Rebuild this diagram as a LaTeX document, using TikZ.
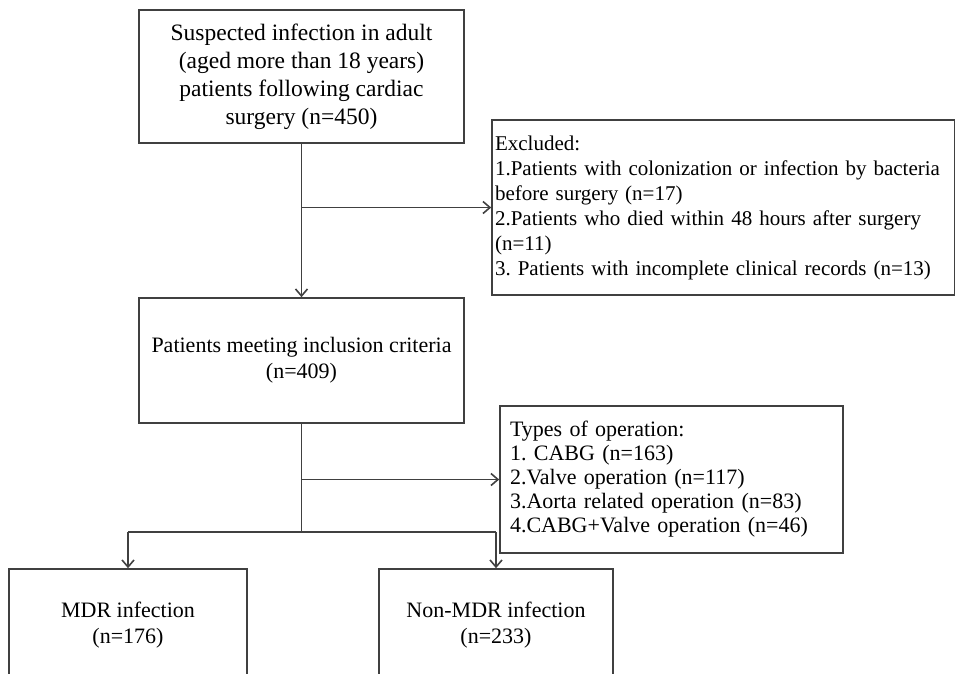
\documentclass[tikz,border=0pt]{standalone}
\usepackage{fontspec}
\setmainfont{Liberation Serif}
\usetikzlibrary{arrows.meta}

\begin{document}
\begin{tikzpicture}[x=1pt, y=1pt,
    box/.style = {draw=black!75, line width=1.6pt, align=center, inner sep=0pt, font=\fontsize{22}{26}\selectfont},
    listbox/.style = {draw=black!75, line width=1.6pt, align=left, inner xsep=3pt, inner ysep=0pt, font=\fontsize{21}{25}\selectfont},
    line/.style = {draw=black!75, line width=1.6pt},
    arrow/.style = {line, -{Straight Barb[length=7pt,width=12pt]}}]
    \useasboundingbox (0,0) rectangle (955,-674);

    % Main boxes
    \node[box, font=\fontsize{23.5}{28}\selectfont, minimum width=325pt, minimum height=133pt] (suspect) at (301.5,-76.5)
        {Suspected infection in adult\\(aged more than 18 years)\\patients following cardiac\\surgery (n=450)};
    \node[box, minimum width=325pt, minimum height=125pt] (included) at (301.5,-360.5)
        {Patients meeting inclusion criteria\\(n=409)};

    % Side boxes
    \node[listbox, text width=457pt, minimum height=175pt] (excluded) at (723.5,-207.5)
        {Excluded:\\1.Patients with colonization or infection by bacteria\\before surgery (n=17)\\2.Patients who died within 48 hours after surgery\\(n=11)\\3.\ Patients with incomplete clinical records (n=13)};
    \node[listbox, inner xsep=10pt, text width=323pt, minimum height=147pt, font=\fontsize{22}{24}\selectfont] (optypes) at (671.5,-479.5)
        {Types of operation:\\1.\ CABG (n=163)\\2.Valve operation (n=117)\\3.Aorta related operation (n=83)\\4.CABG+Valve operation (n=46)};

    % Bottom boxes
    \node[box, minimum width=238pt, minimum height=112pt] (mdr) at (128,-625) {MDR infection\\(n=176)};
    \node[box, minimum width=234pt, minimum height=112pt] (nonmdr) at (496,-625) {Non-MDR infection\\(n=233)};

    % Branch points
    \coordinate (exsplit) at (suspect.south |- excluded.west);
    \coordinate (opsplit) at (included.south |- optypes.west);
    \coordinate (split) at (301.5,-532);
    \coordinate (leftend) at (mdr.north |- split);
    \coordinate (rightend) at (nonmdr.north |- split);

    % Arrows
    \draw[arrow] (suspect) -- (included);
    \draw[arrow] (exsplit) -- (excluded);
    \draw[line] (included) -- (split);
    \draw[arrow] (opsplit) -- (optypes);
    \draw[line] (leftend) -- (rightend);
    \draw[arrow] (leftend) -- (mdr);
    \draw[arrow] (rightend) -- (nonmdr);

\end{tikzpicture}
\end{document}
